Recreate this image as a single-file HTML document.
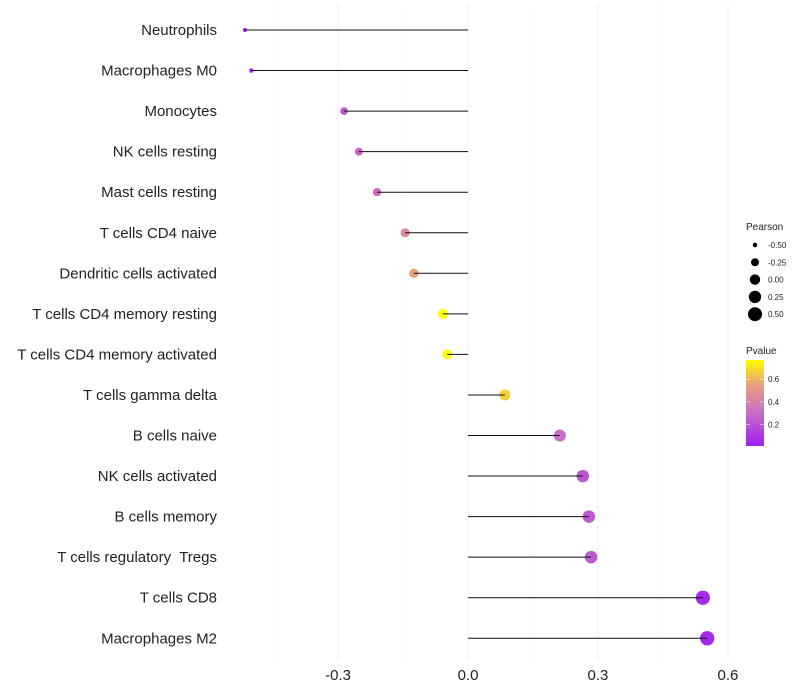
<!DOCTYPE html>
<html><head><meta charset="utf-8"><style>
body{margin:0;background:#fff;font-family:"Liberation Sans",sans-serif}
svg{display:block}
text{white-space:pre}
</style></head><body>
<svg id="chart" width="800" height="700"></svg>
<script>
const categories=["Neutrophils","Macrophages M0","Monocytes","NK cells resting","Mast cells resting","T cells CD4 naive","Dendritic cells activated","T cells CD4 memory resting","T cells CD4 memory activated","T cells gamma delta","B cells naive","NK cells activated","B cells memory","T cells regulatory  Tregs","T cells CD8","Macrophages M2"];
const pearson=[-0.515,-0.50,-0.286,-0.252,-0.21,-0.145,-0.125,-0.058,-0.048,0.085,0.212,0.265,0.279,0.284,0.542,0.552];
const pvalue=[0.02,0.02,0.2,0.27,0.3,0.45,0.55,0.77,0.76,0.66,0.3,0.2,0.22,0.22,0.04,0.04];
const xTicks=[-0.3,0,0.3,0.6];
const xTickLabels=["-0.3","0.0","0.3","0.6"];
const xMinor=[-0.45,-0.15,0.15,0.45];
const sizeBreaks=[-0.5,-0.25,0,0.25,0.5];
const sizeLabels=["-0.50","-0.25","0.00","0.25","0.50"];
const pTicks=[0.2,0.4,0.6];

const NS="http://www.w3.org/2000/svg";
const svg=document.getElementById('chart');
function el(t,a,p){const e=document.createElementNS(NS,t);for(const k in a)e.setAttribute(k,a[k]);(p||svg).appendChild(e);return e;}
const x=v=>468+v*433.3;
const y=i=>30+i*40.55;
const r=v=>Math.sqrt(Math.max(1,27+44*v));
const stops=[[0,[160,32,240]],[0.3,[200,110,200]],[0.55,[232,160,120]],[0.77,[255,255,0]]];
function col(p){p=Math.max(0,Math.min(0.77,p));for(let i=1;i<stops.length;i++){if(p<=stops[i][0]){const a=stops[i-1],b=stops[i],t=(p-a[0])/(b[0]-a[0]);const c=a[1].map((v,k)=>Math.round(v+(b[1][k]-v)*t));return `rgb(${c})`;}}return 'rgb(255,255,0)';}

xMinor.forEach(v=>{const l=el('line',{x1:x(v),x2:x(v),y1:5,y2:660,stroke:'#f4f4f4','stroke-width':0.6});

});
xTicks.forEach((v,i)=>{const l=el('line',{x1:x(v),x2:x(v),y1:5,y2:660,stroke:'#efefef','stroke-width':1});


const t=el('text',{x:x(v),y:680,'text-anchor':'middle','font-size':15,fill:'#222'});t.textContent=xTickLabels[i];

});

categories.forEach((c,i)=>{
const t=el('text',{x:217,y:y(i)+5,'text-anchor':'end','font-size':15,fill:'#222'});t.textContent=c;


const d=el('circle',{cx:x(pearson[i]),cy:y(i),r:r(pearson[i]),fill:col(pvalue[i])});


const l=el('line',{x1:x(0),x2:x(pearson[i]),y1:y(i),y2:y(i),stroke:'#111','stroke-width':1});


});

const lt=el('text',{x:746,y:230,'font-size':10,fill:'#222'});lt.textContent='Pearson';


sizeBreaks.forEach((v,i)=>{const cy=245+i*17.3;
const c=el('circle',{cx:755,cy:cy,r:r(v),fill:'#000'});


const t=el('text',{x:768,y:cy+3,'font-size':8,fill:'#222'});t.textContent=sizeLabels[i];

});

const pt=el('text',{x:746,y:354,'font-size':10,fill:'#222'});pt.textContent='Pvalue';


const defs=el('defs',{});const g=el('linearGradient',{id:'pg',x1:0,y1:1,x2:0,y2:0},defs);
stops.forEach(s=>el('stop',{offset:(s[0]/0.77),'stop-color':`rgb(${s[1]})`},g));
const pv=p=>446-(p-0.01)*(86/0.76);
const bar=el('rect',{x:746,y:360,width:18,height:86,fill:'url(#pg)'});


pTicks.forEach(p=>{const t=el('text',{x:768,y:pv(p)+3,'font-size':8,fill:'#222'});t.textContent=p.toFixed(1);


el('line',{x1:746,x2:750,y1:pv(p),y2:pv(p),stroke:'#fff','stroke-width':0.5});
el('line',{x1:760,x2:764,y1:pv(p),y2:pv(p),stroke:'#fff','stroke-width':0.5});});
</script>
</body></html>
